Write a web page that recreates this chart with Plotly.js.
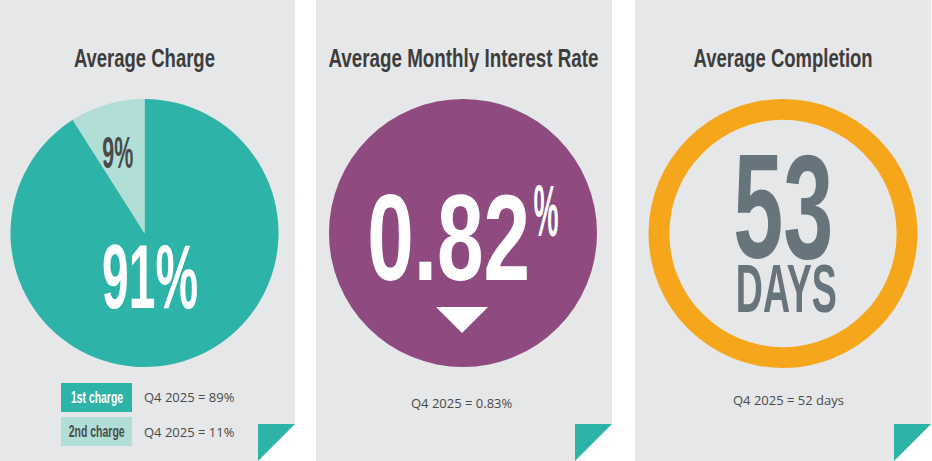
<!DOCTYPE html>
<html>
<head>
<meta charset="utf-8">
<script src="https://cdn.plot.ly/plotly-3.0.1.min.js"></script>
<style>
  html, body { margin: 0; padding: 0; background: #fff; }
  #chart { width: 932px; height: 461px; }
</style>
</head>
<body>
<div id="chart"></div>
<script>
var titles = ["Average Charge", "Average Monthly Interest Rate", "Average Completion"];

var chargeLabels = ["1st charge", "2nd charge"];
var chargeValues = [91, 9];
var chargePrevious = [89, 11];

var rateValue = [0.82];
var ratePrevious = 0.83;

var completionDays = [53];
var completionPrevious = 52;

var prevQuarter = "Q4 2025";

var TEAL = "#2db3a8";
var TEAL_LIGHT = "#b2ded8";
var PURPLE = "#8f4a80";
var ORANGE = "#f5a61b";
var SLATE = "#68747b";
var PANEL = "#e6e7e8";
var DARK = "#3d3d3d";
var COND = "Liberation Sans Narrow, Arial Narrow, sans-serif";
var BODY = "Open Sans, sans-serif";

var W = 932, H = 461;

// pie domain from a pixel centre and radius
function dom(cx, cy, r) {
  return { x: [(cx - r) / W, (cx + r) / W], y: [(H - cy - r) / H, (H - cy + r) / H] };
}

var data = [
  {
    type: "pie",
    labels: chargeLabels,
    values: chargeValues,
    sort: false,
    direction: "clockwise",
    rotation: 0,
    marker: { colors: [TEAL, TEAL_LIGHT], line: { width: 0 } },
    textinfo: "none",
    hoverinfo: "none",
    showlegend: false,
    domain: dom(144.5, 233, 134),
  },
  {
    type: "pie",
    labels: ["rate"],
    values: rateValue,
    marker: { colors: [PURPLE], line: { width: 0 } },
    textinfo: "none",
    hoverinfo: "none",
    showlegend: false,
    domain: dom(463, 233, 134),
  },
  {
    type: "pie",
    labels: ["days"],
    values: completionDays,
    hole: 0.845,
    marker: { colors: [ORANGE], line: { width: 0 } },
    textinfo: "none",
    hoverinfo: "none",
    showlegend: false,
    domain: dom(783, 233.5, 134.5),
  },
];

function txt(x, y, text, size, color, family, opts) {
  var a = {
    x: x, y: y, xref: "x", yref: "y", text: text, showarrow: false,
    xanchor: "center", yanchor: "middle",
    font: { family: family || COND, size: size, color: color, weight: family === BODY ? "normal" : "bold" },
  };
  for (var k in opts || {}) a[k] = opts[k];
  return a;
}

var annotations = [
  txt(144, 58, titles[0], 25, DARK),
  txt(463, 58, titles[1], 25, DARK),
  txt(783, 58, titles[2], 25, DARK),

  txt(118, 152, chargeValues[1] + "%", 44, "#4a4a4a"),
  txt(150, 276, chargeValues[0] + "%", 91, "#ffffff"),

  txt(96.5, 397.5, chargeLabels[0], 16, "#ffffff"),
  txt(96.5, 431.5, chargeLabels[1], 16, "#4a4a4a"),
  txt(142, 397, prevQuarter + " = " + chargePrevious[0] + "%", 13, "#4a4a4a", BODY, { xanchor: "left" }),
  txt(142, 432, prevQuarter + " = " + chargePrevious[1] + "%", 13, "#4a4a4a", BODY, { xanchor: "left" }),

  txt(448.5, 237, rateValue[0].toFixed(2), 123, "#ffffff"),
  txt(545.5, 211, "%", 72, "#ffffff"),
  txt(462, 403, prevQuarter + " = " + ratePrevious.toFixed(2) + "%", 13, "#4a4a4a", BODY),

  txt(783, 206, String(completionDays[0]), 148, SLATE),
  txt(786.5, 288, "DAYS", 68, SLATE),
  txt(788.5, 400, prevQuarter + " = " + completionPrevious + " days", 13, "#4a4a4a", BODY),
];

// widths (px) the condensed lettering takes in the picture
var squeeze = {};
squeeze[titles[0]] = 141;
squeeze[titles[1]] = 270;
squeeze[titles[2]] = 179;
squeeze["9%"] = 31;
squeeze["91%"] = 96;
squeeze["1st charge"] = 52;
squeeze["2nd charge"] = 56;
squeeze["0.82"] = 163;
squeeze["%"] = 25;
squeeze["53"] = 100;
squeeze["DAYS"] = 101;

function panel(x0, x1) {
  return {
    type: "path", xref: "x", yref: "y", layer: "below",
    path: "M" + x0 + ",0 L" + x1 + ",0 L" + x1 + ",424 L" + (x1 - 37) + ",461 L" + x0 + ",461 Z",
    fillcolor: PANEL, line: { width: 0 },
  };
}
function fold(x1) {
  return {
    type: "path", xref: "x", yref: "y",
    path: "M" + (x1 - 37) + ",424 L" + x1 + ",424 L" + (x1 - 37) + ",461 Z",
    fillcolor: TEAL, line: { width: 0 },
  };
}

var shapes = [
  panel(0, 295), panel(316, 612), panel(635, 931),
  fold(295), fold(612), fold(931),
  { type: "rect", xref: "x", yref: "y", layer: "below", x0: 61, x1: 132, y0: 383, y1: 412, fillcolor: TEAL, line: { width: 0 } },
  { type: "rect", xref: "x", yref: "y", layer: "below", x0: 61, x1: 132, y0: 417, y1: 446, fillcolor: TEAL_LIGHT, line: { width: 0 } },
  // down arrow under the rate
  { type: "path", xref: "x", yref: "y", path: "M436,307 L488,307 L462,333 Z", fillcolor: "#ffffff", line: { width: 0 } },
];

var layout = {
  width: W,
  height: H,
  margin: { l: 0, r: 0, t: 0, b: 0 },
  paper_bgcolor: "#ffffff",
  plot_bgcolor: "rgba(0,0,0,0)",
  xaxis: { range: [0, W], visible: false, fixedrange: true },
  yaxis: { range: [H, 0], visible: false, fixedrange: true },
  shapes: shapes,
  annotations: annotations,
  showlegend: false,
};

Plotly.newPlot("chart", data, layout, { staticPlot: true, displayModeBar: false }).then(function () {
  document.querySelectorAll("#chart .annotation-text").forEach(function (t) {
    var w = squeeze[t.textContent];
    if (w) {
      t.setAttribute("textLength", w);
      t.setAttribute("lengthAdjust", "spacingAndGlyphs");
    }
  });
});
</script>
</body>
</html>
